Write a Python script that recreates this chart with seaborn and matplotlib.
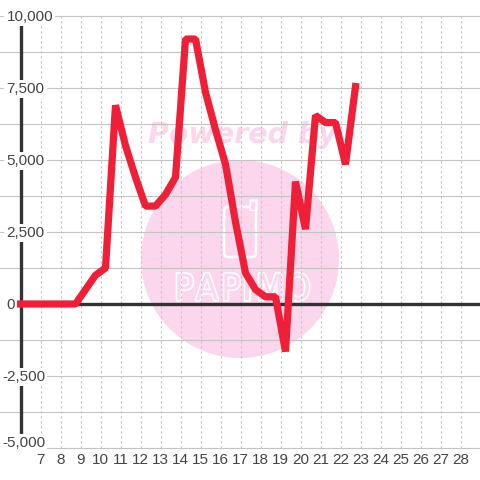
import pandas as pd
import matplotlib
matplotlib.use('Agg')
import matplotlib.pyplot as plt
from matplotlib.patches import Circle, FancyBboxPatch, Rectangle
import matplotlib.patheffects as pe
import seaborn as sns

# values
hours = [6, 6.75, 7.25, 7.75, 8.25, 8.75, 9.25, 9.75, 10.25, 10.75, 11.25, 11.75, 12.25,
         12.75, 13.25, 13.75, 14.25, 14.75, 15.25, 15.75, 16.25, 16.75, 17.25, 17.75,
         18.25, 18.75, 19.25, 19.75, 20.25, 20.75, 21.25, 21.75, 22.25, 22.75]
profit = [0, 0, 0, 0, 0, 0, 500, 1000, 1250, 6900, 5500, 4400, 3400,
          3400, 3800, 4400, 9200, 9200, 7350, 6050, 4850, 2850, 1080, 500,
          250, 250, -1650, 4250, 2600, 6550, 6300, 6300, 4850, 7550]
y_major = [10000, 7500, 5000, 2500, 0, -2500, -5000]
y_minor = [8750, 6250, 3750, 1250, -1250, -3750]
y_label_text = ['10,000', '7,500', '5,000', '2,500', '0', '-2,500', '-5,000']
x_ticks = list(range(7, 29))
watermark_letters = ['P', 'A', 'P', 'I', 'M', 'O']

PINK = '#FBD6EC'
GRID = '#C4C4C4'
DARK = '#333333'
RED = '#EF1F37'

sns.set_theme(style='white')
plt.rcParams['font.family'] = ['Liberation Sans', 'DejaVu Sans']

fig = plt.figure(figsize=(4.8, 4.8), dpi=100, facecolor='white')

# watermark layer, in pixels
bg = fig.add_axes([0, 0, 1, 1], zorder=0)
bg.set_xlim(0, 480)
bg.set_ylim(480, 0)
bg.axis('off')
bg.add_patch(Circle((240, 259), 99, fc=PINK, ec='none'))
bg.text(242, 135, 'Powered by', color=PINK, fontsize=20.5, fontweight='bold', fontstyle='italic',
        family='DejaVu Sans', ha='center', va='center')
bg.add_patch(FancyBboxPatch((224, 207), 32, 50, boxstyle='round,pad=0,rounding_size=4',
                            fc='none', ec='white', lw=1.8))
bg.add_patch(Rectangle((250, 200), 6, 9, fc=PINK, ec='white', lw=1.8))
bg.add_patch(Rectangle((251, 205), 4, 5, fc=PINK, ec='none'))
for letter, px in zip(watermark_letters, [184, 207, 231, 247, 270, 298]):
    bg.text(px, 290, letter, color=PINK, fontsize=26, family='DejaVu Sans', stretch='condensed',
            ha='center', va='center',
            path_effects=[pe.withStroke(linewidth=2.4, foreground='white')])

# main chart: 20 px per hour, 72 px per 2,500
x_left = 7 - 40.5 / 20
ax = fig.add_axes([0, 0, 1, 1], zorder=1)
ax.patch.set_alpha(0)
ax.set_xlim(x_left, 7 + 439.5 / 20)
ax.set_ylim(-(480 - 304) / 72 * 2500, 304 / 72 * 2500)

for v in y_major + y_minor:
    if v != 0:
        ax.axhline(v, color=GRID, lw=0.8, zorder=1)
ax.vlines(x_ticks, -5000, 10000, color=GRID, lw=0.8, linestyles=(0, (2, 2.5)), zorder=1)
ax.axhline(0, xmin=20.5 / 480, color=DARK, lw=2.4, zorder=2)
ax.vlines(6, -5000, 10000, color=DARK, lw=2.4, zorder=2)

for v, label in zip(y_major, y_label_text):
    # bottom label sits a little above its line
    y_pos = v + 160 if v == -5000 else v - 40
    x_px = 2 if label.startswith('-') else 6.5
    ax.text(x_left + x_px / 20, y_pos, label, color='#444444', fontsize=11, ha='left', va='center',
            zorder=3, bbox=dict(fc='white', ec='none', pad=1.5))

for h in x_ticks:
    ax.text(h, -5430, str(h), color='#444444', fontsize=11, ha='center', va='center')

df = pd.DataFrame({'hour': hours, 'profit': profit})
sns.lineplot(data=df, x='hour', y='profit', color=RED, lw=5.2, ax=ax, zorder=4, errorbar=None, sort=False)
ax.lines[-1].set_solid_joinstyle('bevel')
ax.lines[-1].set_solid_capstyle('projecting')
ax.axis('off')

fig.savefig('out.png', dpi=100)
